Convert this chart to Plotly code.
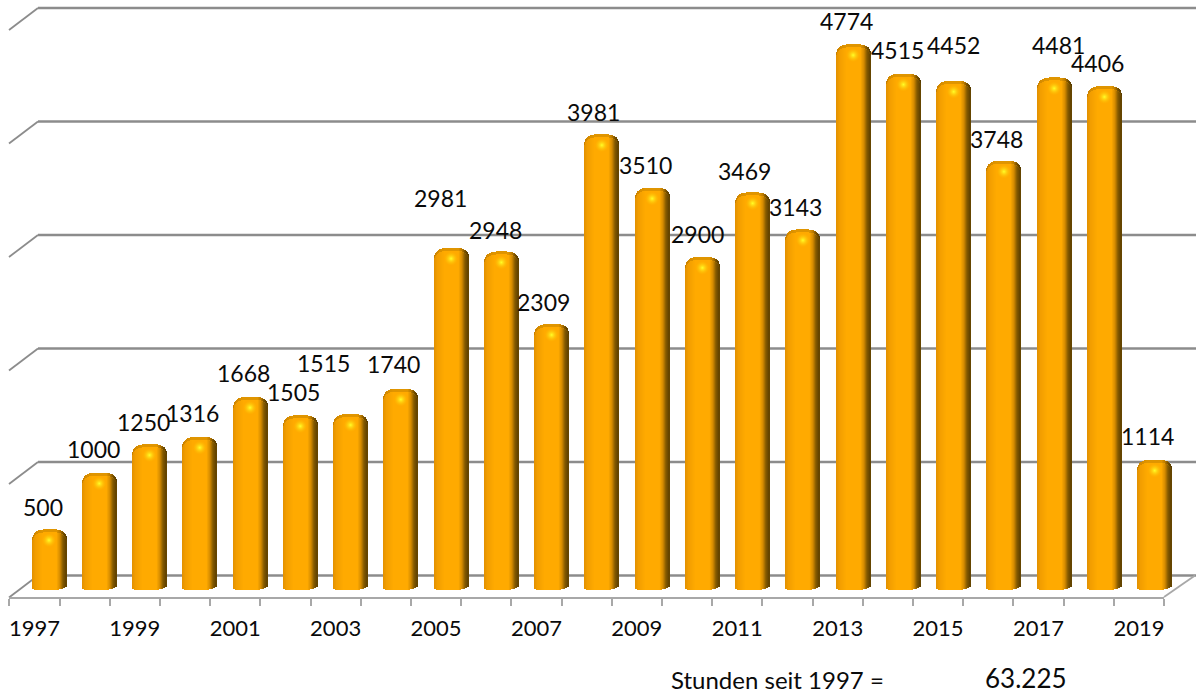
import plotly.graph_objects as go

years = list(range(1997, 2020))
hours = [500, 1000, 1250, 1316, 1668, 1505, 1515, 1740, 2981, 2948, 2309, 3981,
         3510, 2900, 3469, 3143, 4774, 4515, 4452, 3748, 4481, 4406, 1114]
tick_years = list(range(1997, 2020, 2))
grid_levels = [0, 1000, 2000, 3000, 4000, 5000]
total_label = "Stunden seit 1997 ="
total_value = "63.225"

# manual data-label offsets (px) as placed in the original chart
label_dx = [-6, -6, -6.5, -7, -7, -7, -27, -7, -11, -6, -8, -8, -7, -5, -8, -7, -7, -6, 0, -7, 4, -7, -7]
label_up = [26, 27.5, 26, 27.6, 27.7, 27, 55, 28.5, 53.7, 25, 26, 26, 27, 27, 25, 26, 27, 27.5, 40, 26, 36, 27, 27.6]

W, H = 1196, 693
PLOT_H = 597          # axis line pixel row
PX_PER_UNIT = 0.1135  # vertical pixels per hour
BAR_ZERO_PX = 590
GRID_ZERO_PX = 575.5
PX_PER_YEAR = 50.26
FIRST_BAR_PX = 49
BAR_W_PX = 34
N_STRIPS = 34

y_range = [-(PLOT_H - BAR_ZERO_PX) / PX_PER_UNIT, BAR_ZERO_PX / PX_PER_UNIT]
x2_range = [1997 - FIRST_BAR_PX / PX_PER_YEAR, 1997 + (W - FIRST_BAR_PX) / PX_PER_YEAR]

stops = [(0.0, (226, 144, 0)), (0.10, (242, 158, 0)), (0.30, (255, 170, 0)), (0.72, (255, 170, 0)),
         (0.82, (214, 140, 0)), (0.91, (132, 90, 0)), (1.0, (96, 66, 0))]


def shade(f, k=1.0):
    for (a, ca), (b, cb) in zip(stops, stops[1:]):
        if f <= b:
            m = (f - a) / (b - a)
            c = [ca[i] + (cb[i] - ca[i]) * m for i in range(3)]
            break
    return "rgb(%d,%d,%d)" % tuple(min(255, int(v * k)) for v in c)


def top_px(t, inset=0.0):
    drop = 10.0 if t < 0 else 8.0
    p = 3.0
    dome = (1 - abs(t) ** p) ** (1 / p)
    return -drop + (drop + 4) * dome - inset


def bottom_px(t):
    return 3.5 * max(t, 0) ** 3 + 1.0 * max(-t, 0) ** 6


fig = go.Figure()

# invisible trace that carries the tick/label axis
fig.add_trace(go.Scatter(x=years, y=hours, xaxis="x", yaxis="y", mode="lines",
                         line=dict(width=0), opacity=0, hoverinfo="skip", showlegend=False))

strip = BAR_W_PX / N_STRIPS
for inset, k in ((0.0, 0.88), (3.0, 1.0)):
    for i in range(N_STRIPS):
        f = (i + 0.5) / N_STRIPS
        t = 2 * f - 1
        base = bottom_px(t) / PX_PER_UNIT
        tops = [h + top_px(t, inset) / PX_PER_UNIT for h in hours]
        fig.add_trace(go.Bar(
            x=years, y=[v - base for v in tops], base=base, xaxis="x2", yaxis="y",
            width=(strip * 1.5) / PX_PER_YEAR,
            offset=(-BAR_W_PX / 2 + i * strip) / PX_PER_YEAR,
            marker=dict(color=shade(f, k), line=dict(width=0)),
            hoverinfo="skip", showlegend=False))

# specular highlight on each bar's cap
fig.add_trace(go.Scatter(
    x=years, y=[h - 7 / PX_PER_UNIT for h in hours], xaxis="x2", yaxis="y", mode="markers",
    marker=dict(size=14, color="rgba(255,190,0,0)", line=dict(width=0),
                gradient=dict(type="radial", color="rgba(255,255,40,1)")),
    hoverinfo="skip", showlegend=False))


def px(x):
    return x / W


def py(y):
    return (PLOT_H - y) / PLOT_H


shapes = []
GRID = "#8C8C8C"
for g in grid_levels:
    yb = GRID_ZERO_PX - g * PX_PER_UNIT
    shapes.append(dict(type="line", xref="paper", yref="paper", x0=px(38), x1=px(1196), y0=py(yb), y1=py(yb),
                       line=dict(color=GRID, width=2.4), layer="below"))
    shapes.append(dict(type="line", xref="paper", yref="paper", x0=px(9), x1=px(38), y0=py(yb + 22), y1=py(yb),
                       line=dict(color=GRID, width=1.8), layer="below"))
shapes.append(dict(type="line", xref="paper", yref="paper", x0=px(1164), x1=px(1195), y0=py(597), y1=py(575.5),
                   line=dict(color="#A8A8A8", width=1.8), layer="below"))

annotations = [dict(x=y, y=h, xref="x2", yref="y", text=str(h), showarrow=False,
                    xshift=dx, yshift=up, xanchor="center", yanchor="middle",
                    font=dict(family="Lato", size=23, color="#0a0a0a"))
               for y, h, dx, up in zip(years, hours, label_dx, label_up)]
annotations.append(dict(x=px(777), y=py(680), xref="paper", yref="paper", text=total_label, showarrow=False,
                        xanchor="center", yanchor="middle", font=dict(family="Lato", size=24, color="#0a0a0a")))
annotations.append(dict(x=px(1026), y=py(678), xref="paper", yref="paper", text=total_value, showarrow=False,
                        xanchor="center", yanchor="middle", font=dict(family="Lato", size=26, color="#0a0a0a")))

fig.update_layout(
    width=W, height=H, autosize=False, margin=dict(l=0, r=0, t=0, b=H - PLOT_H, pad=0),
    paper_bgcolor="white", plot_bgcolor="rgba(0,0,0,0)", barmode="overlay", bargap=0, showlegend=False,
    shapes=shapes, annotations=annotations,
    xaxis=dict(domain=[px(9.3), px(1164)], range=[1996.5, 2019.5], anchor="y",
               tickmode="array", tickvals=tick_years, ticktext=[str(v) for v in tick_years],
               ticks="", ticklen=0, ticklabelstandoff=11, showgrid=False, zeroline=False,
               showline=True, linecolor="#A8A8A8", linewidth=2,
               tickfont=dict(family="Lato", size=22, color="#0a0a0a"),
               minor=dict(ticks="outside", ticklen=7, tickwidth=2, tickcolor="#A8A8A8",
                          tickmode="linear", tick0=1996.5, dtick=1, showgrid=False)),
    xaxis2=dict(domain=[0, 1], range=x2_range, anchor="y", visible=False, showgrid=False),
    yaxis=dict(domain=[0, 1], range=y_range, visible=False, showgrid=False, zeroline=False),
)

fig.write_html("out.html", config={"displayModeBar": False},
               post_script="document.body.style.margin='0';document.body.style.overflow='hidden';")
